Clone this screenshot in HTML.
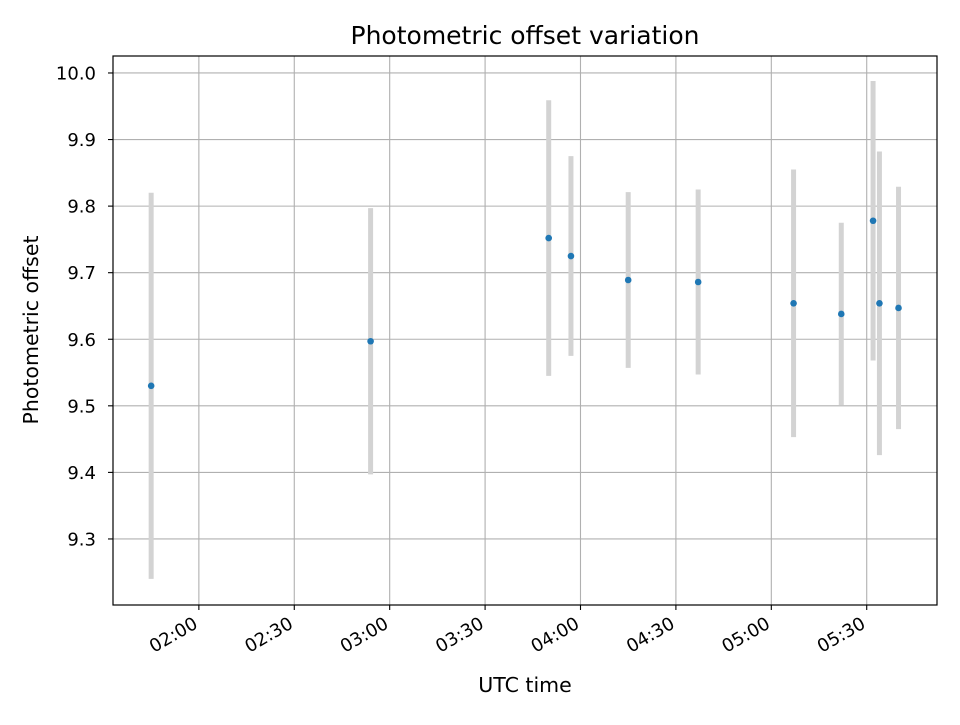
<!DOCTYPE html>
<html><head><meta charset="utf-8"><style>
body{margin:0;background:#fff;font-family:"Liberation Sans","DejaVu Sans",sans-serif}
svg text{font-family:"DejaVu Sans","Liberation Sans",sans-serif;fill:#000}
</style></head><body>
<svg id="chart" width="960" height="720" viewBox="0 0 960 720">
<rect width="960" height="720" fill="#fff"/>
<g id="grid"></g>
<g id="bars"></g>
<g id="pts"></g>
<rect x="113" y="56" width="824" height="549" fill="none" stroke="#000" stroke-width="1.2"/>
<g id="axes"></g>
<text x="525" y="44" font-size="25" text-anchor="middle">Photometric offset variation</text>
<text x="525" y="692" font-size="20.5" text-anchor="middle">UTC time</text>
<text transform="translate(38,330) rotate(-90)" font-size="20.5" text-anchor="middle">Photometric offset</text>
</svg>
<script>
const times = ["01:45","02:54","03:50","03:57","04:15","04:37","05:07","05:22","05:32","05:34","05:40"];
const offsets = [9.530,9.597,9.752,9.725,9.689,9.686,9.654,9.638,9.778,9.654,9.647];
const errors = [0.29,0.20,0.207,0.15,0.132,0.139,0.201,0.137,0.21,0.228,0.182];
const xTickLabels = ["02:00","02:30","03:00","03:30","04:00","04:30","05:00","05:30"];
const yTickLabels = ["9.3","9.4","9.5","9.6","9.7","9.8","9.9","10.0"];
const NS="http://www.w3.org/2000/svg";
function mins(t){const p=t.split(":");return +p[0]*60+ +p[1];}
const xMin=mins("01:33")+0.0, xMax=mins("05:52")+0.1, yMin=9.2008, yMax=10.0255;
const L=113,R=937,T=56,B=605;
function sx(t){return L+(mins(t)-xMin)/(xMax-xMin)*(R-L);}
function sy(v){return B-(v-yMin)/(yMax-yMin)*(B-T);}
function mk(tag,attrs,parent){const e=document.createElementNS(NS,tag);for(const k in attrs)e.setAttribute(k,attrs[k]);parent.appendChild(e);return e;}
const grid=document.getElementById("grid"),axes=document.getElementById("axes");
xTickLabels.forEach(l=>{const x=sx(l);
 const g=mk("line",{x1:x,x2:x,y1:T,y2:B,stroke:"#b0b0b0","stroke-width":1.1},grid);
 
 
 const tk=mk("line",{x1:x,x2:x,y1:B,y2:B+5,stroke:"#000","stroke-width":1.1},axes);
 
 
 const ax=x, ay=B+22;
 const tx=mk("text",{x:ax,y:ay,"font-size":18,"text-anchor":"end",transform:`rotate(-30 ${ax} ${ay})`},axes);
 tx.textContent=l;
 
 
});
yTickLabels.forEach(l=>{const y=sy(+l);
 const g=mk("line",{x1:L,x2:R,y1:y,y2:y,stroke:"#b0b0b0","stroke-width":1.1},grid);
 
 
 const tk=mk("line",{x1:L-5,x2:L,y1:y,y2:y,stroke:"#000","stroke-width":1.1},axes);
 
 
 const tx=mk("text",{x:L-17,y:y+6.5,"font-size":18,"text-anchor":"end"},axes);
 tx.textContent=l;
 
 
});
const bars=document.getElementById("bars"),pts=document.getElementById("pts");
times.forEach((t,i)=>{const x=sx(t);
 const b=mk("line",{x1:x,x2:x,y1:sy(offsets[i]+errors[i]),y2:sy(offsets[i]-errors[i]),stroke:"#d3d3d3","stroke-width":5},bars);
 
 
 const c=mk("circle",{cx:x,cy:sy(offsets[i]),r:3.3,fill:"#1f77b4"},pts);
 
 
});
</script>
</body></html>
